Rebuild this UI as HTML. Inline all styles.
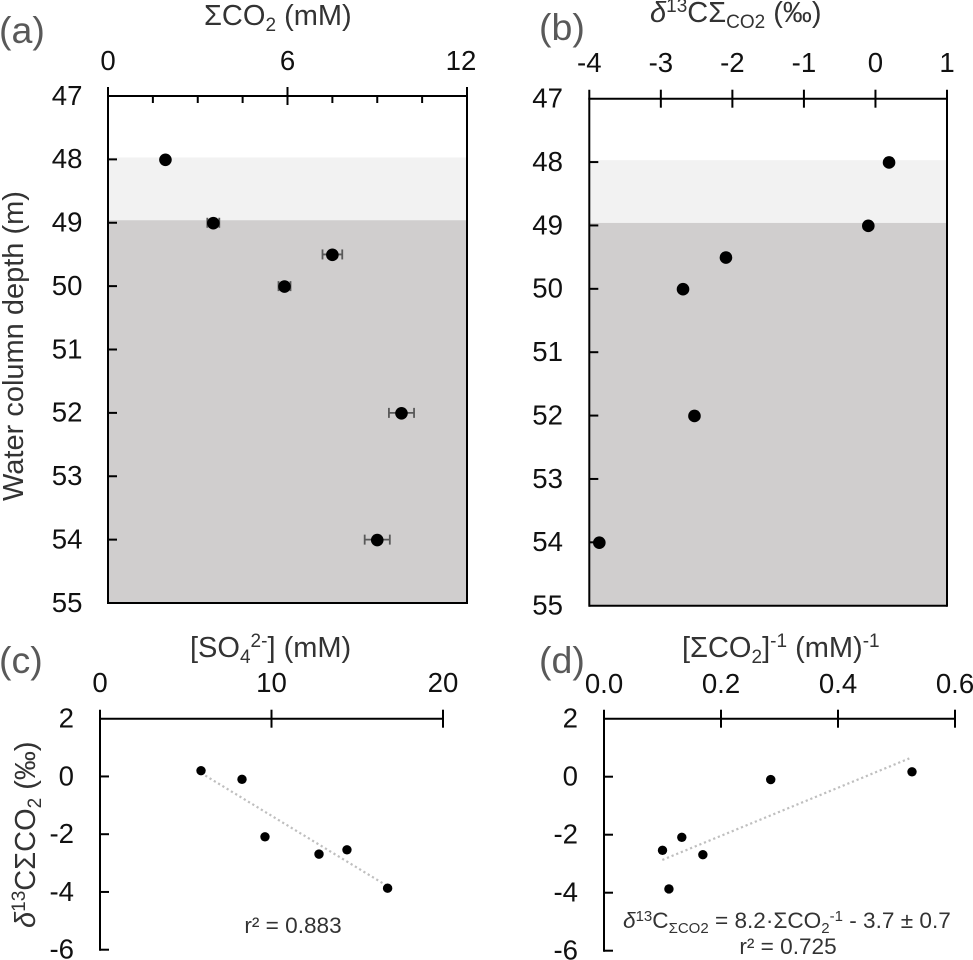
<!DOCTYPE html>
<html lang="en">
<head>
<meta charset="utf-8">
<title>Water column geochemistry profiles</title>
<style>
  html, body { margin: 0; padding: 0; background: #fff; }
  svg { display: block; font-family: "Liberation Sans", sans-serif; }
  .tick-label { font-size: 27.6px; fill: #111; }
  .axis-title { font-size: 29px; fill: #333; }
  .panel-label { font-size: 37.5px; fill: #595959; }
  .note { font-size: 22.6px; fill: #333; }
</style>
</head>
<body>
<svg id="chart" xmlns="http://www.w3.org/2000/svg" width="973" height="960" viewBox="0 0 973 960">
  <g id="layer-bands"></g>
  <g id="layer-marks"></g>

  <text class="panel-label" x="-1" y="43">(a)</text>
  <text class="panel-label" x="539" y="40">(b)</text>
  <text class="panel-label" x="-1" y="673">(c)</text>
  <text class="panel-label" x="539" y="673">(d)</text>

  <text class="axis-title" x="204" y="25">ΣCO<tspan dy="6" font-size="19">2</tspan><tspan dy="-6"> (mM)</tspan></text>
  <text class="axis-title" x="650" y="22"><tspan font-style="italic">δ</tspan><tspan dy="-10" font-size="19">13</tspan><tspan dy="10">CΣ</tspan><tspan dy="6" font-size="19">CO2</tspan><tspan dy="-6"> (‰)</tspan></text>
  <text class="axis-title" x="190" y="657">[SO<tspan dy="6" font-size="19">4</tspan><tspan dy="-16" font-size="19">2-</tspan><tspan dy="10">] (mM)</tspan></text>
  <text class="axis-title" x="682" y="657">[ΣCO<tspan dy="6" font-size="19">2</tspan><tspan dy="-6">]</tspan><tspan dy="-10" font-size="19">-1</tspan><tspan dy="10"> (mM)</tspan><tspan dy="-10" font-size="19">-1</tspan></text>

  <text class="axis-title" transform="translate(23,501) rotate(-90)">Water column depth (m)</text>
  <text class="axis-title" transform="translate(35,928) rotate(-90)"><tspan font-style="italic">δ</tspan><tspan dy="-10" font-size="19">13</tspan><tspan dy="10">CΣCO</tspan><tspan dy="6" font-size="19">2</tspan><tspan dy="-6"> (‰)</tspan></text>

  <text class="note" x="293" y="933" text-anchor="middle">r² = 0.883</text>
  <text class="note" x="623" y="928"><tspan font-style="italic">δ</tspan><tspan dy="-7" font-size="15">13</tspan><tspan dy="7">C</tspan><tspan dy="5" font-size="15">ΣCO2</tspan><tspan dy="-5"> = 8.2·ΣCO</tspan><tspan dy="5" font-size="15">2</tspan><tspan dy="-12" font-size="15">-1</tspan><tspan dy="7"> - 3.7 ± 0.7</tspan></text>
  <text class="note" x="788" y="954" text-anchor="middle">r² = 0.725</text>
</svg>

<script>
// ---------- data ----------
const depthTicks = [47, 48, 49, 50, 51, 52, 53, 54, 55];
const isoTicks = [2, 0, -2, -4, -6];

const aTopLabels = [0, 6, 12];
const aTopMinor = [1.5, 3, 4.5, 7.5, 9, 10.5];
const bTopLabels = [-4, -3, -2, -1, 0, 1];
const cTopLabels = [0, 10, 20];
const dTopLabels = ['0.0', '0.2', '0.4', '0.6'];

const profileDepths = [48, 49, 49.5, 50, 52, 54];
const aConcentration = [1.92, 3.52, 7.5, 5.9, 9.81, 9.0];
const aConcentrationError = [0, 0.2, 0.33, 0.2, 0.42, 0.42];
const bIsotope = [0.19, -0.1, -2.09, -2.69, -2.53, -3.86];

const cSulfate = [5.89, 8.28, 9.62, 12.77, 14.4, 16.77];
const cIsotope = [0.2, -0.1, -2.09, -2.69, -2.54, -3.87];
const cTrendX = [5.89, 16.77];
const cTrendY = [0.12, -3.8];

const dInverse = [0.5265, 0.285, 0.133, 0.1, 0.169, 0.111];
const dIsotope = [0.17, -0.1, -2.09, -2.54, -2.69, -3.87];
const dTrendX = [0.0997, 0.5219];
const dTrendY = [-2.87, 0.63];

const oxicDepthStart = 47.97;
const suboxicDepthStart = 48.96;
const anoxicDepthEnd = 55;

// ---------- helpers ----------
const NS = 'http://www.w3.org/2000/svg';
const marks = document.getElementById('layer-marks');
const bands = document.getElementById('layer-bands');

function linear(d0, d1, r0, r1) {
  return function (v) { return r0 + (v - d0) * (r1 - r0) / (d1 - d0); };
}
function make(tag, parent, attrs, text) {
  const el = document.createElementNS(NS, tag);
  for (const k in attrs) el.setAttribute(k, attrs[k]);
  if (text !== undefined) el.textContent = text;
  parent.appendChild(el);
  return el;
}
function drawLine(name, x1, y1, x2, y2, width, color, dash) {
  const attrs = { x1: x1, y1: y1, x2: x2, y2: y2, stroke: color || '#000', 'stroke-width': width || 2 };
  if (dash) attrs['stroke-dasharray'] = dash;
  const el = make('line', marks, attrs);
  
  
  return el;
}
function drawLabel(name, x, y, anchor, str) {
  const el = make('text', marks, { x: x, y: y, 'text-anchor': anchor, class: 'tick-label' }, str);
  
  
  return el;
}
function drawPoint(name, x, y, r) {
  const el = make('circle', marks, { cx: x, cy: y, r: r, fill: '#000' });
  
  
  return el;
}
function drawBand(name, x, y, w, h, color) {
  const el = make('rect', bands, { x: x, y: y, width: w, height: h, fill: color });
  
  
  return el;
}

// Draws frame, ticks and tick labels for one panel.
function drawAxes(p) {
  const name = 'panel-' + p.id;
  drawLine(name + '-x-axis', p.left - 1, p.top, p.right + 1, p.top);
  drawLine(name + '-y-axis', p.left, p.top - 9, p.left, p.bottom + 1);
  if (p.boxed) {
    drawLine(name + '-right-border', p.right, p.top - 9, p.right, p.bottom + 1);
    drawLine(name + '-bottom-border', p.left, p.bottom, p.right, p.bottom);
  }
  p.xTicks.forEach(function (t, i) {
    const x = p.x(Number(t));
    const isEnd = i === 0 || i === p.xTicks.length - 1;
    if (!(isEnd && p.boxed) && i !== 0) {
      drawLine(name + '-x-tick-' + t, x, p.top - 9, x, p.top + 9);
    }
    const shift = (p.lastShift && i === p.xTicks.length - 1) ? p.lastShift : 0;
    drawLabel(name + '-x-label-' + t, x + shift, p.xLabelY, 'middle', String(t));
  });
  (p.xMinor || []).forEach(function (t) {
    const x = p.x(t);
    drawLine(name + '-x-minor-tick-' + t, x, p.top, x, p.top + 7);
  });
  p.yTicks.forEach(function (t, i) {
    const y = p.y(t);
    if (i !== 0 && !(p.boxed && i === p.yTicks.length - 1)) {
      drawLine(name + '-y-tick-' + t, p.left, y, p.left + 9, y);
    }
    drawLabel(name + '-y-label-' + t, p.yLabelX, y + 8.8, 'end', String(t));
  });
}

// ---------- panels ----------
const panelA = { id: 'a', left: 108, right: 467, top: 96, bottom: 603, boxed: true,
  xLabelY: 70, yLabelX: 82.5, xTicks: aTopLabels, xMinor: aTopMinor, yTicks: depthTicks, lastShift: -6 };
panelA.x = linear(0, 12, panelA.left, panelA.right);
panelA.y = linear(47, 55, panelA.top, panelA.bottom);

const panelB = { id: 'b', left: 589.3, right: 947, top: 98.7, bottom: 605.7, boxed: true,
  xLabelY: 72, yLabelX: 563, xTicks: bTopLabels, yTicks: depthTicks };
panelB.x = linear(-4, 1, panelB.left, panelB.right);
panelB.y = linear(47, 55, panelB.top, panelB.bottom);

const panelC = { id: 'c', left: 100, right: 443, top: 718.7, bottom: 949.7, boxed: false,
  xLabelY: 692, yLabelX: 74, xTicks: cTopLabels, yTicks: isoTicks };
panelC.x = linear(0, 20, panelC.left, panelC.right);
panelC.y = linear(2, -6, panelC.top, panelC.bottom);

const panelD = { id: 'd', left: 604, right: 955, top: 718.7, bottom: 950.7, boxed: false,
  xLabelY: 693, yLabelX: 578, xTicks: dTopLabels, yTicks: isoTicks };
panelD.x = linear(0, 0.6, panelD.left, panelD.right);
panelD.y = linear(2, -6, panelD.top, panelD.bottom);

// Background bands (a sits a few px above its tick grid in the source figure)
[panelA, panelB].forEach(function (p) {
  const w = p.right - p.left;
  const yL = p.y(oxicDepthStart);
  const yD = p.y(suboxicDepthStart);
  drawBand('panel-' + p.id + '-suboxic-band', p.left, yL, w, yD - yL, '#f2f2f2');
  drawBand('panel-' + p.id + '-anoxic-band', p.left, yD, w, p.y(anoxicDepthEnd) - yD, '#d0cece');
});

[panelA, panelB, panelC, panelD].forEach(drawAxes);

// Panel (a): error bars + points
profileDepths.forEach(function (d, i) {
  const e = aConcentrationError[i];
  const y = panelA.y(d);
  if (e > 0) {
    const x0 = panelA.x(aConcentration[i] - e);
    const x1 = panelA.x(aConcentration[i] + e);
    drawLine('panel-a-error-bar-' + d, x0, y, x1, y, 1.8, '#595959');
    drawLine('panel-a-error-cap-low-' + d, x0, y - 5, x0, y + 5, 1.8, '#595959');
    drawLine('panel-a-error-cap-high-' + d, x1, y - 5, x1, y + 5, 1.8, '#595959');
  }
  drawPoint('panel-a-point-' + d, panelA.x(aConcentration[i]), y + 0.4, 6.3);
});

// Panel (b): points
profileDepths.forEach(function (d, i) {
  drawPoint('panel-b-point-' + d, panelB.x(bIsotope[i]), panelB.y(d) + 0.4, 6.3);
});

// Panel (c): trend + points
drawLine('panel-c-trend-line', panelC.x(cTrendX[0]), panelC.y(cTrendY[0]), panelC.x(cTrendX[1]), panelC.y(cTrendY[1]), 2.2, '#bfbfbf', '2.2 2.8');
cSulfate.forEach(function (v, i) {
  drawPoint('panel-c-point-' + i, panelC.x(v), panelC.y(cIsotope[i]), 4.7);
});

// Panel (d): trend + points
drawLine('panel-d-trend-line', panelD.x(dTrendX[0]), panelD.y(dTrendY[0]), panelD.x(dTrendX[1]), panelD.y(dTrendY[1]), 2.2, '#bfbfbf', '2.2 2.8');
dInverse.forEach(function (v, i) {
  drawPoint('panel-d-point-' + i, panelD.x(v), panelD.y(dIsotope[i]), 4.7);
});
</script>
</body>
</html>
